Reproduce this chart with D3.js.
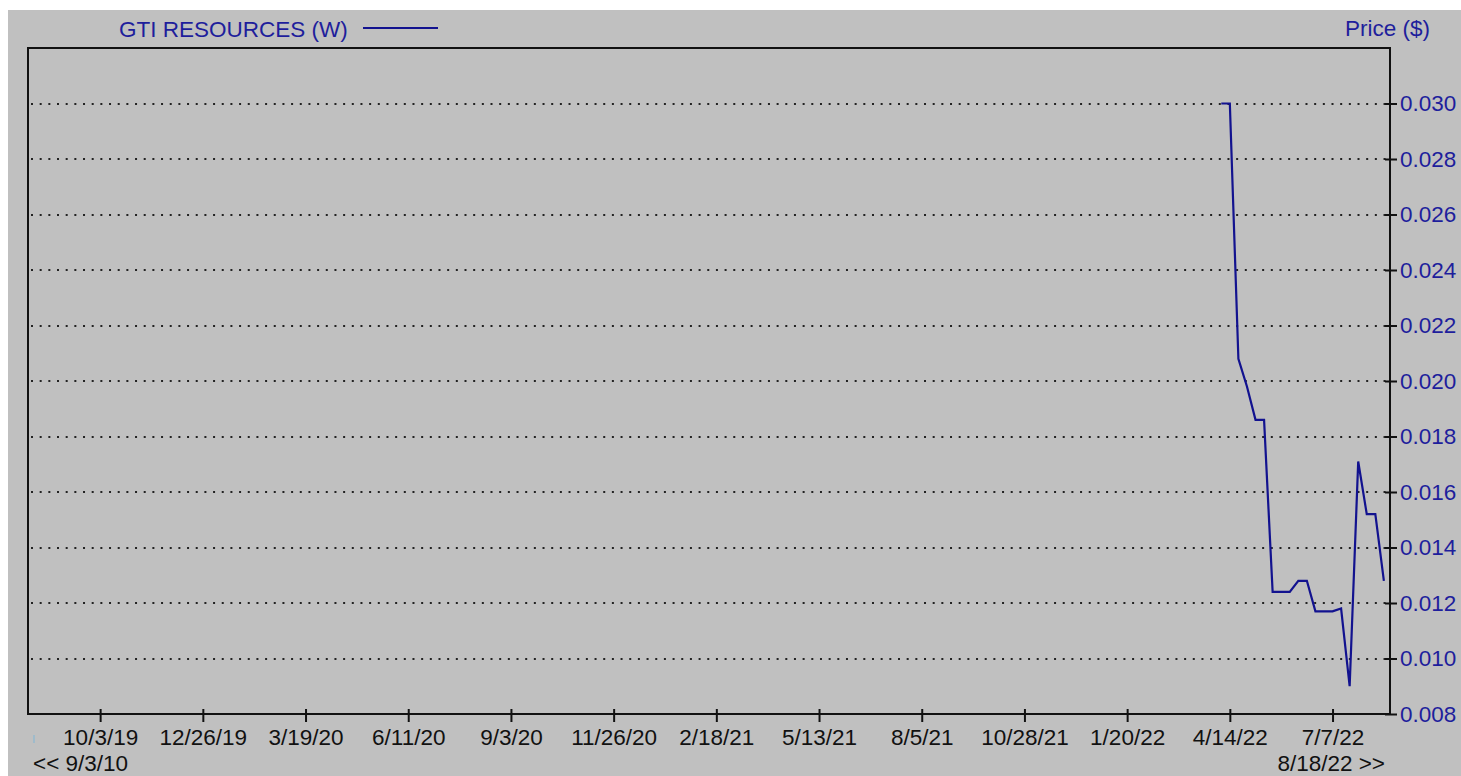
<!DOCTYPE html>
<html>
<head>
<meta charset="utf-8">
<script src="https://cdn.jsdelivr.net/npm/d3@7"></script>
<style>
  body { margin: 0; background: #fff; }
  text { font-family: "Liberation Sans", Arial, sans-serif; }
</style>
</head>
<body>
<script>
// weekly closes
var weeks = ["4/7/22","4/14/22","4/21/22","4/28/22","5/5/22","5/12/22","5/19/22","5/26/22",
  "6/2/22","6/9/22","6/16/22","6/23/22","6/30/22","7/7/22","7/14/22","7/21/22",
  "7/28/22","8/4/22","8/11/22","8/18/22"];
var prices = [0.0300,0.0300,0.0208,0.0198,0.0186,0.0186,0.0124,0.0124,
  0.0124,0.0128,0.0128,0.0117,0.0117,0.0117,0.0118,0.0090,
  0.0171,0.0152,0.0152,0.0128];

var xTicks = ["10/3/19","12/26/19","3/19/20","6/11/20","9/3/20","11/26/20","2/18/21",
  "5/13/21","8/5/21","10/28/21","1/20/22","4/14/22","7/7/22"];
var yTicks = [0.008,0.010,0.012,0.014,0.016,0.018,0.020,0.022,0.024,0.026,0.028,0.030];

var title = "GTI RESOURCES (W)",
    yTitle = "Price ($)",
    startLabel = "<< 9/3/10",
    endLabel = "8/18/22 >>";

var visualize = function(){
  var w = 1461, h = 776;
  var pl = 28, pr = 1390, pt = 48, pb = 714;
  var blue = "#1e1e9c", lineBlue = "#12128f", fs = "22.5px";

  var parse = d3.timeParse("%m/%d/%y");
  var fmt = d3.timeFormat("%-m/%-d/%y");

  var svg = d3.select("body").append("svg")
    .attr("width", w)
    .attr("height", h);

  svg.append("rect")
    .attr("x", 8).attr("y", 10)
    .attr("width", w - 8).attr("height", h - 10)
    .style("fill", "#c0c0c0");

  var x = d3.scaleTime()
    .domain([new Date(2019, 7, 5), new Date(2022, 7, 23)])
    .range([pl, pr]);

  var y = d3.scaleLinear()
    .domain([0.008, 0.032])
    .range([pb, pt]);

  // dotted grid
  svg.append("g").selectAll("line")
    .data(yTicks.filter(function(d){ return d > 0.0085; }))
    .enter().append("line")
    .attr("x1", pl + 3).attr("x2", pr - 4)
    .attr("y1", function(d){ return Math.round(y(d)); })
    .attr("y2", function(d){ return Math.round(y(d)); })
    .style("stroke", "#222")
    .style("stroke-width", 2)
    .style("stroke-dasharray", "2 6.67");

  // frame
  svg.append("rect")
    .attr("x", pl).attr("y", pt)
    .attr("width", pr - pl).attr("height", pb - pt)
    .style("fill", "none")
    .style("stroke", "#111")
    .style("stroke-width", 2);

  // x axis
  var xAxis = d3.axisBottom(x)
    .tickValues(xTicks.map(parse))
    .tickFormat(fmt)
    .tickSizeInner(8)
    .tickSizeOuter(0)
    .tickPadding(7);

  var gx = svg.append("g")
    .attr("transform", "translate(0," + pb + ")")
    .call(xAxis);
  gx.select(".domain").remove();
  gx.selectAll(".tick line")
    .attr("y1", -5)
    .style("stroke", "#111")
    .style("stroke-width", 2);
  gx.selectAll(".tick text")
    .style("font-size", fs)
    .style("fill", "#111");

  // y axis on right
  var yAxis = d3.axisRight(y)
    .tickValues(yTicks)
    .tickFormat(d3.format(".3f"))
    .tickSizeInner(7)
    .tickSizeOuter(0)
    .tickPadding(3);

  var gy = svg.append("g")
    .attr("transform", "translate(" + pr + ",0)")
    .call(yAxis);
  gy.select(".domain").remove();
  gy.selectAll(".tick line")
    .attr("x1", -5)
    .style("stroke", "#111")
    .style("stroke-width", 2);
  gy.selectAll(".tick text")
    .style("font-size", fs)
    .style("fill", blue);

  // price line
  var line = d3.line()
    .x(function(d, i){ return x(parse(weeks[i])); })
    .y(function(d){ return y(d); });

  svg.append("path")
    .datum(prices)
    .attr("d", line)
    .style("fill", "none")
    .style("stroke", lineBlue)
    .style("stroke-width", 2.2);

  // header
  svg.append("text")
    .attr("x", 119).attr("y", 37)
    .style("font-size", fs)
    .style("fill", blue)
    .text(title);

  svg.append("line")
    .attr("x1", 363).attr("x2", 438)
    .attr("y1", 28).attr("y2", 28)
    .style("stroke", lineBlue)
    .style("stroke-width", 2);

  svg.append("text")
    .attr("x", 1430).attr("y", 36)
    .attr("text-anchor", "end")
    .style("font-size", fs)
    .style("fill", blue)
    .text(yTitle);

  // range labels
  svg.append("text")
    .attr("x", 33).attr("y", 771)
    .style("font-size", fs)
    .style("fill", "#111")
    .text(startLabel);

  svg.append("text")
    .attr("x", 1385).attr("y", 771)
    .attr("text-anchor", "end")
    .style("font-size", fs)
    .style("fill", "#111")
    .text(endLabel);

  // little scroll marker
  svg.append("line")
    .attr("x1", 34).attr("x2", 34)
    .attr("y1", 735).attr("y2", 743)
    .style("stroke", "#7fb6d6")
    .style("stroke-width", 1);
};

visualize();
</script>
</body>
</html>
